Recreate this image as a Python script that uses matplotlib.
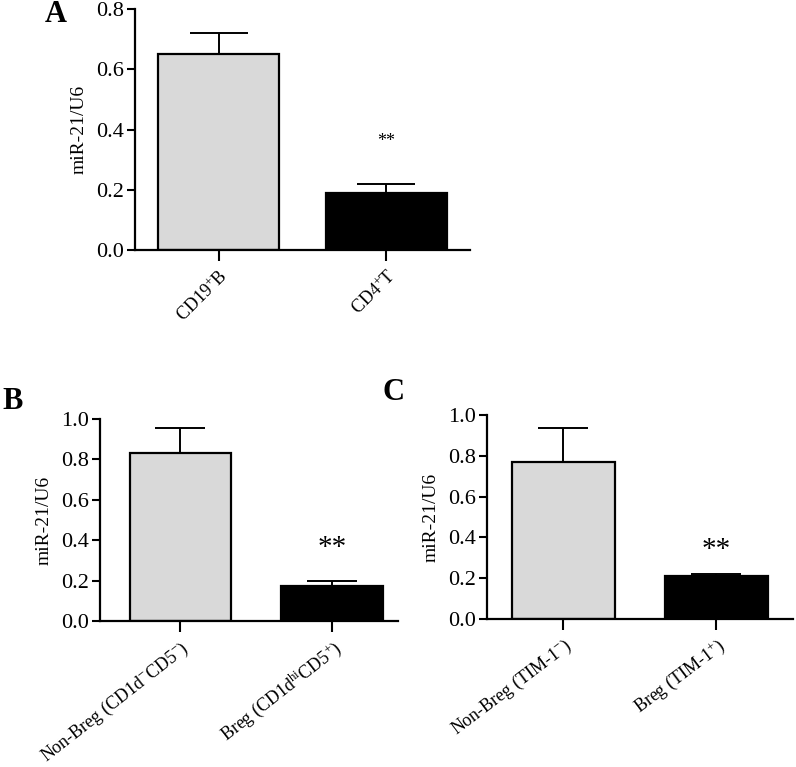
import matplotlib
matplotlib.use("Agg")
import matplotlib.pyplot as plt

plt.rcParams['font.family'] = ['Liberation Serif', 'DejaVu Serif']
plt.rcParams['mathtext.fontset'] = 'custom'
plt.rcParams['mathtext.rm'] = 'Liberation Serif'
plt.rcParams['mathtext.it'] = 'Liberation Serif:italic'

# panel A
a_labels = [r'CD19$^{+}$B', r'CD4$^{+}$T']
a_means = [0.65, 0.19]
a_errs = [0.07, 0.03]
# panel B
b_labels = [r'Non-Breg (CD1d$^{-}$CD5$^{-}$)', r'Breg (CD1d$^{\rm hi}$CD5$^{+}$)']
b_means = [0.83, 0.175]
b_errs = [0.125, 0.025]
# panel C
c_labels = [r'Non-Breg (TIM-1$^{-}$)', r'Breg (TIM-1$^{+}$)']
c_means = [0.77, 0.21]
c_errs = [0.165, 0.01]

colors = ['#d9d9d9', 'black']

fig = plt.figure(figsize=(7.96, 7.67), dpi=100)


def panel(rect, labels, means, errs, ymax, xlim, width, cap, star_y, star_size, rot):
    ax = fig.add_axes(rect)
    x = [0, 1]
    ax.bar(x, means, width=width, color=colors, edgecolor='black', linewidth=1.6, zorder=2)
    for xi, m, e in zip(x, means, errs):
        ax.errorbar(xi, m, yerr=[[0], [e]], fmt='none', ecolor='black',
                    elinewidth=1.4, capsize=cap, capthick=1.4, zorder=1)
    ax.set_xlim(*xlim)
    ax.set_ylim(0, ymax)
    n = int(round(ymax / 0.2)) + 1
    ax.set_yticks([i * 0.2 for i in range(n)])
    ax.set_yticklabels(['%.1f' % (i * 0.2) for i in range(n)])
    ax.set_xticks(x)
    ax.set_xticklabels(labels, rotation=rot, ha='right', va='top', rotation_mode='anchor')
    for s in ['top', 'right']:
        ax.spines[s].set_visible(False)
    for s in ['left', 'bottom']:
        ax.spines[s].set_linewidth(1.6)
    ax.tick_params(axis='y', length=6, width=1.5, labelsize=16, pad=2)
    ax.tick_params(axis='x', length=8, width=1.5, labelsize=13, pad=4)
    ax.set_ylabel('miR-21/U6', fontsize=14, labelpad=6)
    ax.text(1, star_y, '**', ha='center', va='center', fontsize=star_size)
    return ax


axA = panel([0.1696, 0.674, 0.421, 0.314], a_labels, a_means, a_errs, 0.8,
            (-0.5, 1.5), 0.72, 21, 0.36, 13, 45)
axB = panel([0.1256, 0.1903, 0.374, 0.2634], b_labels, b_means, b_errs, 1.0,
            (-0.53, 1.43), 0.67, 18, 0.36, 21, 38)
axC = panel([0.6118, 0.193, 0.3844, 0.266], c_labels, c_means, c_errs, 1.0,
            (-0.5, 1.5), 0.67, 18, 0.34, 21, 37)

fig.text(56 / 796, 1 - 15 / 767, 'A', fontsize=22, fontweight='bold', ha='center', va='center')
fig.text(13 / 796, 1 - 402 / 767, 'B', fontsize=22, fontweight='bold', ha='center', va='center')
fig.text(394 / 796, 1 - 393 / 767, 'C', fontsize=22, fontweight='bold', ha='center', va='center')

fig.savefig('out.png', dpi=100)
